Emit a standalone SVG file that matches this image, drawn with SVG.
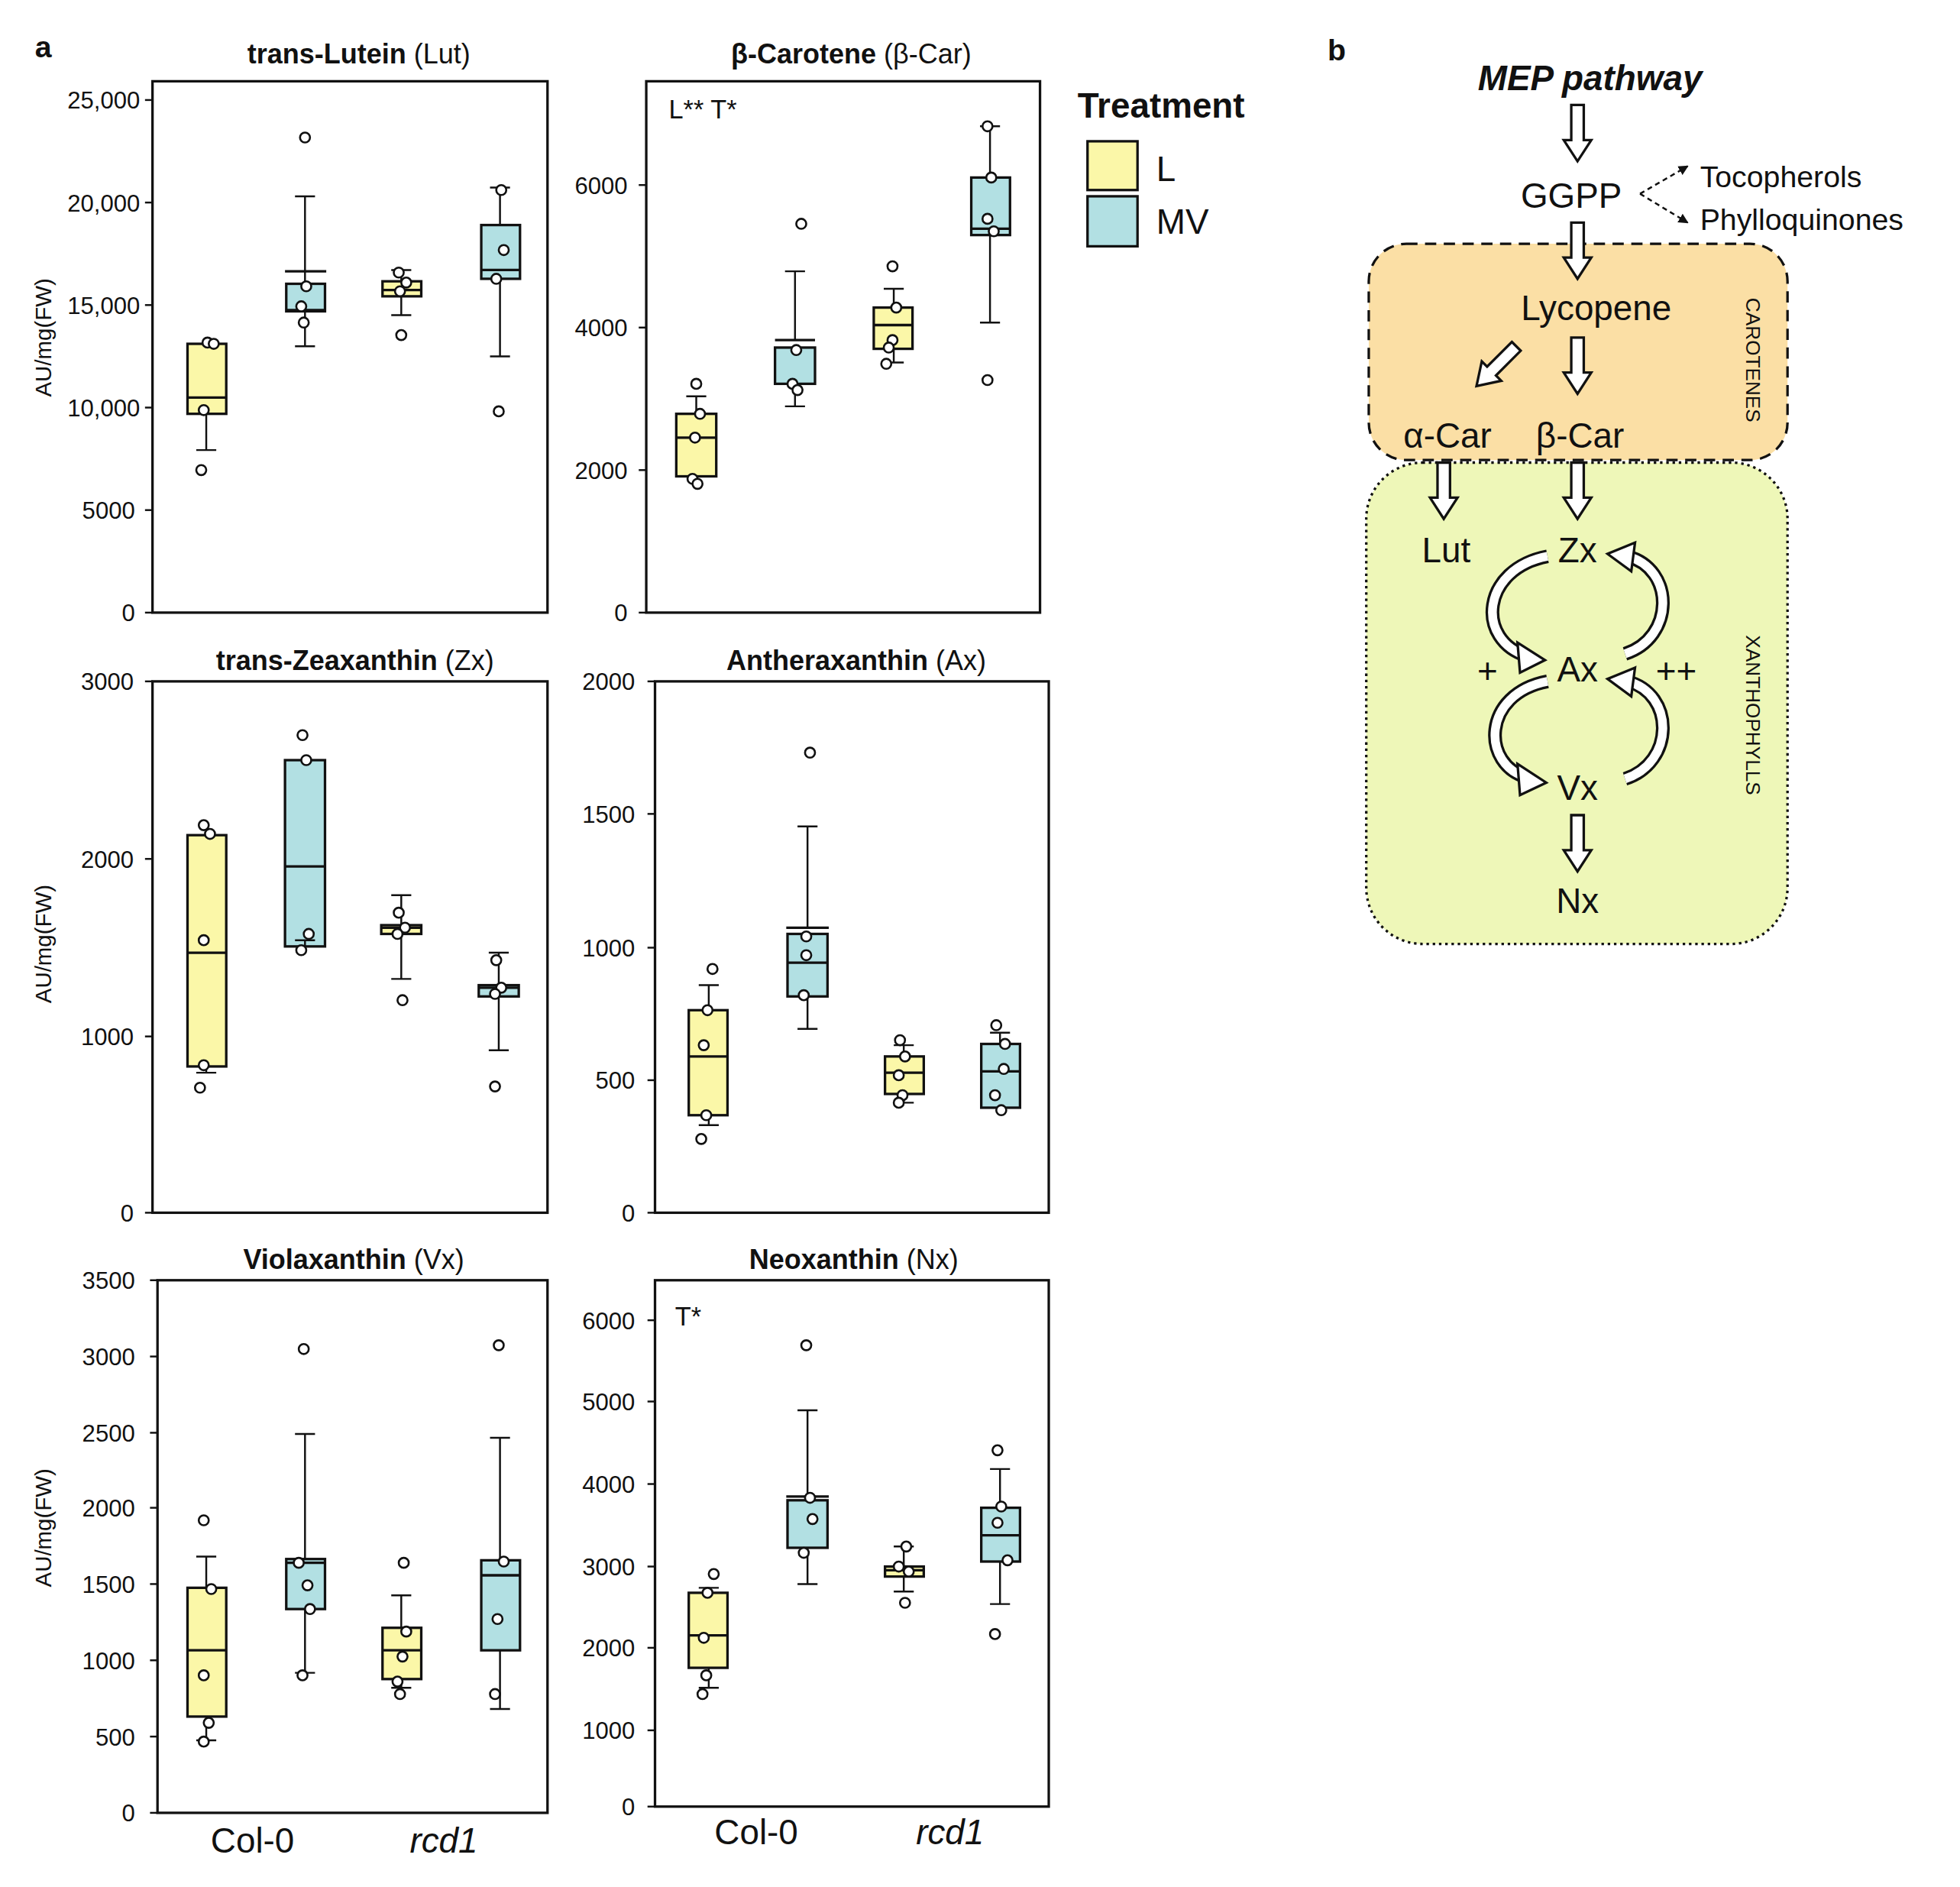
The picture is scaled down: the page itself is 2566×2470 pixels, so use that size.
<svg xmlns="http://www.w3.org/2000/svg" width="2566" height="2470" viewBox="0 0 2566 2470">
<style>
text{font-family:"Liberation Sans",Arial,sans-serif;fill:#111}
.frame{fill:none;stroke:#111;stroke-width:2}
.tk{stroke:#111;stroke-width:1.5}
.yl{font-size:19px;text-anchor:end}
.ttl{font-size:22px;text-anchor:middle}
.yax{font-size:18px;text-anchor:middle}
.by{fill:#fbf7a8;stroke:#111;stroke-width:2}
.bb{fill:#b2e0e3;stroke:#111;stroke-width:2}
.md{stroke:#111;stroke-width:2}
.wk{stroke:#111;stroke-width:1.5;fill:none}
.dt{fill:#fff;stroke:#111;stroke-width:1.6}
.big{font-size:28px;text-anchor:middle}
.ha{fill:#fff;stroke:#111;stroke-width:2}
.cv1{fill:none;stroke:#111;stroke-width:11}
.cv2{fill:none;stroke:#fff;stroke-width:7}
</style>
<defs>
<path id="da" d="M-5,0 L5,0 L5,28 L11,28 L0,45 L-11,28 L-5,28 Z" class="ha"/>
<marker id="ah" markerWidth="8" markerHeight="8" refX="7" refY="4" orient="auto" markerUnits="userSpaceOnUse"><path d="M0,0 L8,4 L0,8 Z" fill="#111"/></marker>
</defs>
<rect width="2566" height="2470" fill="#fff"/>
<g transform="scale(1.6365)">
<text x="28" y="46" font-size="24" font-weight="bold">a</text>
<text x="1062" y="48" font-size="24" font-weight="bold">b</text>

<!-- Panel Lut -->
<g id="plot-lut">
<text class="ttl" x="287" y="51"><tspan font-weight="bold">trans-Lutein</tspan> (Lut)</text>
<rect class="frame" x="122" y="65" width="316" height="425"/>
<g class="tk"><line x1="116" y1="80" x2="122" y2="80"/><line x1="116" y1="162" x2="122" y2="162"/><line x1="116" y1="244" x2="122" y2="244"/><line x1="116" y1="326" x2="122" y2="326"/><line x1="116" y1="408" x2="122" y2="408"/><line x1="116" y1="490" x2="122" y2="490"/></g>
<g class="yl"><text class="yl" x="112" y="87">25,000</text><text class="yl" x="112" y="169">20,000</text><text class="yl" x="112" y="251">15,000</text><text class="yl" x="112" y="333">10,000</text><text class="yl" x="108" y="415">5000</text><text class="yl" x="108" y="497">0</text></g>
<text class="yax" transform="translate(41,270) rotate(-90)">AU/mg(FW)</text>
<rect class="by" x="150" y="275" width="31" height="56"/><line class="md" x1="150" y1="318" x2="181" y2="318"/><path class="wk" d="M165,331V360M157,360H173"/>
<circle class="dt" cx="166" cy="274" r="4"/><circle class="dt" cx="171" cy="275" r="4"/><circle class="dt" cx="163" cy="328" r="4"/><circle class="dt" cx="161" cy="376" r="4"/>
<rect class="bb" x="229" y="227" width="31" height="22"/><line class="md" x1="229" y1="248" x2="260" y2="248"/><line class="md" x1="228" y1="217" x2="261" y2="217"/><path class="wk" d="M244,227V157M236,157H252M244,249V277M236,277H252"/>
<circle class="dt" cx="244" cy="110" r="4"/><circle class="dt" cx="245" cy="229" r="4"/><circle class="dt" cx="241" cy="245" r="4"/><circle class="dt" cx="243" cy="258" r="4"/>
<rect class="by" x="306" y="225" width="31" height="12"/><line class="md" x1="306" y1="232" x2="337" y2="232"/><path class="wk" d="M321,225V216M313,216H329M321,237V252M313,252H329"/>
<circle class="dt" cx="319" cy="218" r="4"/><circle class="dt" cx="325" cy="226" r="4"/><circle class="dt" cx="320" cy="233" r="4"/><circle class="dt" cx="321" cy="268" r="4"/>
<rect class="bb" x="385" y="180" width="31" height="43"/><line class="md" x1="385" y1="216" x2="416" y2="216"/><path class="wk" d="M400,180V150M392,150H408M400,223V285M392,285H408"/>
<circle class="dt" cx="401" cy="152" r="4"/><circle class="dt" cx="403" cy="200" r="4"/><circle class="dt" cx="397" cy="223" r="4"/><circle class="dt" cx="399" cy="329" r="4"/>
</g>

<!-- Panel bCar -->
<g id="plot-bcar">
<text class="ttl" x="681" y="51"><tspan font-weight="bold">β-Carotene</tspan> (β-Car)</text>
<rect class="frame" x="517" y="65" width="315" height="425"/>
<g class="tk"><line x1="511" y1="148" x2="517" y2="148"/><line x1="511" y1="262" x2="517" y2="262"/><line x1="511" y1="376" x2="517" y2="376"/><line x1="511" y1="490" x2="517" y2="490"/></g>
<text class="yl" x="502" y="155">6000</text><text class="yl" x="502" y="269">4000</text><text class="yl" x="502" y="383">2000</text><text class="yl" x="502" y="497">0</text>
<text x="535" y="95" font-size="21">L** T*</text>
<rect class="by" x="541" y="331" width="32" height="50"/><line class="md" x1="541" y1="350" x2="573" y2="350"/><path class="wk" d="M557,331V317M549,317H565M557,381V386"/>
<circle class="dt" cx="557" cy="307" r="4"/><circle class="dt" cx="560" cy="331" r="4"/><circle class="dt" cx="556" cy="350" r="4"/><circle class="dt" cx="554" cy="383" r="4"/><circle class="dt" cx="558" cy="387" r="4"/>
<rect class="bb" x="620" y="278" width="32" height="29"/><line class="md" x1="620" y1="272" x2="652" y2="272"/><path class="wk" d="M636,272V217M628,217H644M636,307V325M628,325H644"/>
<circle class="dt" cx="641" cy="179" r="4"/><circle class="dt" cx="637" cy="280" r="4"/><circle class="dt" cx="634" cy="307" r="4"/><circle class="dt" cx="638" cy="312" r="4"/>
<rect class="by" x="699" y="246" width="31" height="33"/><line class="md" x1="699" y1="260" x2="730" y2="260"/><path class="wk" d="M715,246V231M707,231H723M715,279V290M707,290H723"/>
<circle class="dt" cx="714" cy="213" r="4"/><circle class="dt" cx="717" cy="246" r="4"/><circle class="dt" cx="714" cy="272" r="4"/><circle class="dt" cx="711" cy="278" r="4"/><circle class="dt" cx="709" cy="291" r="4"/>
<rect class="bb" x="777" y="142" width="31" height="46"/><line class="md" x1="777" y1="183" x2="808" y2="183"/><path class="wk" d="M792,142V101M784,101H800M792,188V258M784,258H800"/>
<circle class="dt" cx="790" cy="101" r="4"/><circle class="dt" cx="793" cy="142" r="4"/><circle class="dt" cx="790" cy="175" r="4"/><circle class="dt" cx="795" cy="185" r="4"/><circle class="dt" cx="790" cy="304" r="4"/>
</g>

<!-- Panel Zx -->
<g id="plot-zx">
<text class="ttl" x="284" y="536"><tspan font-weight="bold">trans-Zeaxanthin</tspan> (Zx)</text>
<rect class="frame" x="122" y="545" width="316" height="425"/>
<g class="tk"><line x1="116" y1="545" x2="122" y2="545"/><line x1="116" y1="687" x2="122" y2="687"/><line x1="116" y1="829" x2="122" y2="829"/><line x1="116" y1="970" x2="122" y2="970"/></g>
<text class="yl" x="107" y="552">3000</text><text class="yl" x="107" y="694">2000</text><text class="yl" x="107" y="836">1000</text><text class="yl" x="107" y="977">0</text>
<text class="yax" transform="translate(41,755) rotate(-90)">AU/mg(FW)</text>
<rect class="by" x="150" y="668" width="31" height="185"/><line class="md" x1="150" y1="762" x2="181" y2="762"/><path class="wk" d="M165,853V858M157,858H173"/>
<circle class="dt" cx="163" cy="660" r="4"/><circle class="dt" cx="168" cy="667" r="4"/><circle class="dt" cx="163" cy="752" r="4"/><circle class="dt" cx="163" cy="852" r="4"/><circle class="dt" cx="160" cy="870" r="4"/>
<rect class="bb" x="228" y="608" width="32" height="149"/><line class="md" x1="228" y1="693" x2="260" y2="693"/><path class="wk" d="M244,757V752M236,752H252"/>
<circle class="dt" cx="242" cy="588" r="4"/><circle class="dt" cx="245" cy="608" r="4"/><circle class="dt" cx="247" cy="747" r="4"/><circle class="dt" cx="241" cy="760" r="4"/>
<rect class="by" x="305" y="740" width="32" height="7"/><line class="md" x1="305" y1="742" x2="337" y2="742"/><path class="wk" d="M321,740V716M313,716H329M321,747V783M313,783H329"/>
<circle class="dt" cx="319" cy="730" r="4"/><circle class="dt" cx="324" cy="742" r="4"/><circle class="dt" cx="318" cy="747" r="4"/><circle class="dt" cx="322" cy="800" r="4"/>
<rect class="bb" x="383" y="788" width="32" height="9"/><line class="md" x1="383" y1="790" x2="415" y2="790"/><path class="wk" d="M399,788V762M391,762H407M399,797V840M391,840H407"/>
<circle class="dt" cx="397" cy="768" r="4"/><circle class="dt" cx="401" cy="790" r="4"/><circle class="dt" cx="396" cy="795" r="4"/><circle class="dt" cx="396" cy="869" r="4"/>
</g>

<!-- Panel Ax -->
<g id="plot-ax">
<text class="ttl" x="685" y="536"><tspan font-weight="bold">Antheraxanthin</tspan> (Ax)</text>
<rect class="frame" x="524" y="545" width="315" height="425"/>
<g class="tk"><line x1="518" y1="545" x2="524" y2="545"/><line x1="518" y1="651" x2="524" y2="651"/><line x1="518" y1="758" x2="524" y2="758"/><line x1="518" y1="864" x2="524" y2="864"/><line x1="518" y1="970" x2="524" y2="970"/></g>
<text class="yl" x="508" y="552">2000</text><text class="yl" x="508" y="658">1500</text><text class="yl" x="508" y="765">1000</text><text class="yl" x="508" y="871">500</text><text class="yl" x="508" y="977">0</text>
<rect class="by" x="551" y="808" width="31" height="84"/><line class="md" x1="551" y1="845" x2="582" y2="845"/><path class="wk" d="M567,808V788M559,788H575M567,892V900M559,900H575"/>
<circle class="dt" cx="570" cy="775" r="4"/><circle class="dt" cx="566" cy="808" r="4"/><circle class="dt" cx="563" cy="836" r="4"/><circle class="dt" cx="565" cy="892" r="4"/><circle class="dt" cx="561" cy="911" r="4"/>
<rect class="bb" x="630" y="747" width="32" height="50"/><line class="md" x1="630" y1="770" x2="662" y2="770"/><line class="md" x1="629" y1="742" x2="663" y2="742"/><path class="wk" d="M646,742V661M638,661H654M646,797V823M638,823H654"/>
<circle class="dt" cx="648" cy="602" r="4"/><circle class="dt" cx="645" cy="749" r="4"/><circle class="dt" cx="645" cy="764" r="4"/><circle class="dt" cx="643" cy="796" r="4"/>
<rect class="by" x="708" y="845" width="31" height="30"/><line class="md" x1="708" y1="858" x2="739" y2="858"/><path class="wk" d="M723,845V836M715,836H731M723,875V882M715,882H731"/>
<circle class="dt" cx="720" cy="832" r="4"/><circle class="dt" cx="724" cy="845" r="4"/><circle class="dt" cx="719" cy="860" r="4"/><circle class="dt" cx="722" cy="876" r="4"/><circle class="dt" cx="719" cy="882" r="4"/>
<rect class="bb" x="785" y="835" width="31" height="51"/><line class="md" x1="785" y1="857" x2="816" y2="857"/><path class="wk" d="M800,835V826M792,826H808M800,886V888"/>
<circle class="dt" cx="797" cy="820" r="4"/><circle class="dt" cx="804" cy="835" r="4"/><circle class="dt" cx="803" cy="855" r="4"/><circle class="dt" cx="796" cy="876" r="4"/><circle class="dt" cx="801" cy="888" r="4"/>
</g>

<!-- Panel Vx -->
<g id="plot-vx">
<text class="ttl" x="283" y="1015"><tspan font-weight="bold">Violaxanthin</tspan> (Vx)</text>
<rect class="frame" x="126" y="1024" width="312" height="426"/>
<g class="tk"><line x1="120" y1="1024" x2="126" y2="1024"/><line x1="120" y1="1085" x2="126" y2="1085"/><line x1="120" y1="1146" x2="126" y2="1146"/><line x1="120" y1="1206" x2="126" y2="1206"/><line x1="120" y1="1267" x2="126" y2="1267"/><line x1="120" y1="1328" x2="126" y2="1328"/><line x1="120" y1="1389" x2="126" y2="1389"/><line x1="120" y1="1450" x2="126" y2="1450"/></g>
<text class="yl" x="108" y="1031">3500</text><text class="yl" x="108" y="1092">3000</text><text class="yl" x="108" y="1153">2500</text><text class="yl" x="108" y="1213">2000</text><text class="yl" x="108" y="1274">1500</text><text class="yl" x="108" y="1335">1000</text><text class="yl" x="108" y="1396">500</text><text class="yl" x="108" y="1457">0</text>
<text class="yax" transform="translate(41,1222) rotate(-90)">AU/mg(FW)</text>
<rect class="by" x="150" y="1270" width="31" height="103"/><line class="md" x1="150" y1="1320" x2="181" y2="1320"/><path class="wk" d="M165,1270V1245M157,1245H173M165,1373V1392M157,1392H173"/>
<circle class="dt" cx="163" cy="1216" r="4"/><circle class="dt" cx="169" cy="1271" r="4"/><circle class="dt" cx="163" cy="1340" r="4"/><circle class="dt" cx="167" cy="1378" r="4"/><circle class="dt" cx="163" cy="1393" r="4"/>
<rect class="bb" x="229" y="1247" width="31" height="40"/><line class="md" x1="229" y1="1250" x2="260" y2="1250"/><path class="wk" d="M244,1247V1147M236,1147H252M244,1287V1338M236,1338H252"/>
<circle class="dt" cx="243" cy="1079" r="4"/><circle class="dt" cx="239" cy="1250" r="4"/><circle class="dt" cx="246" cy="1268" r="4"/><circle class="dt" cx="248" cy="1287" r="4"/><circle class="dt" cx="242" cy="1340" r="4"/>
<rect class="by" x="306" y="1302" width="31" height="41"/><line class="md" x1="306" y1="1320" x2="337" y2="1320"/><path class="wk" d="M321,1302V1276M313,1276H329M321,1343V1350M313,1350H329"/>
<circle class="dt" cx="323" cy="1250" r="4"/><circle class="dt" cx="325" cy="1305" r="4"/><circle class="dt" cx="322" cy="1325" r="4"/><circle class="dt" cx="318" cy="1345" r="4"/><circle class="dt" cx="320" cy="1355" r="4"/>
<rect class="bb" x="385" y="1248" width="31" height="72"/><line class="md" x1="385" y1="1260" x2="416" y2="1260"/><path class="wk" d="M400,1248V1150M392,1150H408M400,1320V1367M392,1367H408"/>
<circle class="dt" cx="399" cy="1076" r="4"/><circle class="dt" cx="403" cy="1249" r="4"/><circle class="dt" cx="398" cy="1295" r="4"/><circle class="dt" cx="396" cy="1355" r="4"/>
</g>

<!-- Panel Nx -->
<g id="plot-nx">
<text class="ttl" x="683" y="1015"><tspan font-weight="bold">Neoxanthin</tspan> (Nx)</text>
<rect class="frame" x="524" y="1024" width="315" height="421"/>
<g class="tk"><line x1="518" y1="1056" x2="524" y2="1056"/><line x1="518" y1="1121" x2="524" y2="1121"/><line x1="518" y1="1187" x2="524" y2="1187"/><line x1="518" y1="1253" x2="524" y2="1253"/><line x1="518" y1="1318" x2="524" y2="1318"/><line x1="518" y1="1384" x2="524" y2="1384"/><line x1="518" y1="1445" x2="524" y2="1445"/></g>
<text class="yl" x="508" y="1063">6000</text><text class="yl" x="508" y="1128">5000</text><text class="yl" x="508" y="1194">4000</text><text class="yl" x="508" y="1260">3000</text><text class="yl" x="508" y="1325">2000</text><text class="yl" x="508" y="1391">1000</text><text class="yl" x="508" y="1452">0</text>
<text x="540" y="1060" font-size="21">T*</text>
<rect class="by" x="551" y="1274" width="31" height="60"/><line class="md" x1="551" y1="1308" x2="582" y2="1308"/><path class="wk" d="M567,1274V1270M559,1270H575M567,1334V1350M559,1350H575"/>
<circle class="dt" cx="571" cy="1259" r="4"/><circle class="dt" cx="566" cy="1274" r="4"/><circle class="dt" cx="563" cy="1310" r="4"/><circle class="dt" cx="565" cy="1340" r="4"/><circle class="dt" cx="562" cy="1355" r="4"/>
<rect class="bb" x="630" y="1200" width="32" height="38"/><line class="md" x1="629" y1="1197" x2="663" y2="1197"/><path class="wk" d="M646,1197V1128M638,1128H654M646,1238V1267M638,1267H654"/>
<circle class="dt" cx="645" cy="1076" r="4"/><circle class="dt" cx="648" cy="1198" r="4"/><circle class="dt" cx="650" cy="1215" r="4"/><circle class="dt" cx="643" cy="1242" r="4"/>
<rect class="by" x="708" y="1253" width="31" height="8"/><line class="md" x1="708" y1="1256" x2="739" y2="1256"/><path class="wk" d="M723,1253V1237M715,1237H731M723,1261V1273M715,1273H731"/>
<circle class="dt" cx="725" cy="1237" r="4"/><circle class="dt" cx="719" cy="1253" r="4"/><circle class="dt" cx="727" cy="1257" r="4"/><circle class="dt" cx="724" cy="1282" r="4"/>
<rect class="bb" x="785" y="1206" width="31" height="43"/><line class="md" x1="785" y1="1228" x2="816" y2="1228"/><path class="wk" d="M800,1206V1175M792,1175H808M800,1249V1283M792,1283H808"/>
<circle class="dt" cx="798" cy="1160" r="4"/><circle class="dt" cx="801" cy="1205" r="4"/><circle class="dt" cx="798" cy="1218" r="4"/><circle class="dt" cx="806" cy="1248" r="4"/><circle class="dt" cx="796" cy="1307" r="4"/>
</g>

<g id="xlabels">
<text class="big" x="202" y="1482" font-size="28">Col-0</text><text class="big" x="355" y="1482" font-size="28" font-style="italic">rcd1</text>
<text class="big" x="605" y="1475" font-size="28">Col-0</text><text class="big" x="760" y="1475" font-size="28" font-style="italic">rcd1</text>
</g>

<g id="legend">
<text x="862" y="94" font-size="28" font-weight="bold">Treatment</text>
<rect x="870" y="113" width="40" height="39" fill="#fbf7a8" stroke="#111" stroke-width="2"/>
<rect x="870" y="157" width="40" height="40" fill="#b2e0e3" stroke="#111" stroke-width="2"/>
<text x="925" y="145" font-size="28">L</text><text x="925" y="187" font-size="28">MV</text>
</g>

<!-- Panel b -->
<g id="carotenes-box"><rect x="1095" y="195" width="335" height="173" rx="30" fill="#fbdfa5" stroke="#111" stroke-width="2" stroke-dasharray="9,6"/>
<text font-size="16" text-anchor="middle" transform="translate(1397,288) rotate(90)">CAROTENES</text></g>
<g id="xanthophylls-box"><rect x="1093" y="370" width="337" height="385" rx="45" fill="#eef7b8" stroke="#111" stroke-width="2" stroke-dasharray="2,3"/>
<text font-size="16" text-anchor="middle" transform="translate(1397,572) rotate(90)">XANTHOPHYLLS</text></g>
<g id="mep"><text class="big" x="1272" y="72" font-size="30" font-weight="bold" font-style="italic">MEP pathway</text></g>
<g id="ggpp"><text class="big" x="1257" y="166">GGPP</text></g>
<g id="toco"><text x="1360" y="150" font-size="24">Tocopherols</text></g>
<g id="phyllo"><text x="1360" y="184" font-size="24">Phylloquinones</text></g>
<g id="lycopene"><text class="big" x="1277" y="256">Lycopene</text></g>
<g id="acar"><text class="big" x="1158" y="358">α-Car</text></g>
<g id="bcar"><text class="big" x="1264" y="358">β-Car</text></g>
<g id="lut"><text class="big" x="1157" y="450">Lut</text></g>
<g id="zx"><text class="big" x="1262" y="450">Zx</text></g>
<g id="ax"><text class="big" x="1262" y="545">Ax</text></g>
<g id="vx"><text class="big" x="1262" y="640">Vx</text></g>
<g id="nx"><text class="big" x="1262" y="730">Nx</text></g>
<text class="big" x="1190" y="546">+</text><text class="big" x="1341" y="546">++</text>

<g id="connectors">
<use href="#da" transform="translate(1262,84)"/>
<use href="#da" transform="translate(1262,178)"/>
<use href="#da" transform="translate(1262,270)"/>
<use href="#da" transform="translate(1155,370)"/>
<use href="#da" transform="translate(1262,370)"/>
<use href="#da" transform="translate(1262,652)"/>
<use href="#da" transform="translate(1213,277) rotate(45)"/>
<path d="M1312,155 L1350,133" fill="none" stroke="#111" stroke-width="1.5" stroke-dasharray="4,3" marker-end="url(#ah)"/>
<path d="M1312,155 L1350,178" fill="none" stroke="#111" stroke-width="1.5" stroke-dasharray="4,3" marker-end="url(#ah)"/>
<g>
<path class="cv1" d="M1238,445 C1185,455 1180,512 1222,525"/><path class="cv2" d="M1238,445 C1185,455 1180,512 1222,525"/>
<path class="ha" d="M1214,514 L1236,528 L1216,538 Z"/>
<path class="cv1" d="M1300,523 C1340,510 1340,455 1302,445"/><path class="cv2" d="M1300,523 C1340,510 1340,455 1302,445"/>
<path class="ha" d="M1308,434 L1286,443 L1305,457 Z"/>
<path class="cv1" d="M1238,545 C1185,555 1185,612 1222,622"/><path class="cv2" d="M1238,545 C1185,555 1185,612 1222,622"/>
<path class="ha" d="M1214,611 L1237,626 L1216,636 Z"/>
<path class="cv1" d="M1300,623 C1340,610 1340,555 1302,545"/><path class="cv2" d="M1300,623 C1340,610 1340,555 1302,545"/>
<path class="ha" d="M1308,534 L1286,543 L1305,557 Z"/>
</g>
</g>
</g>
</svg>
